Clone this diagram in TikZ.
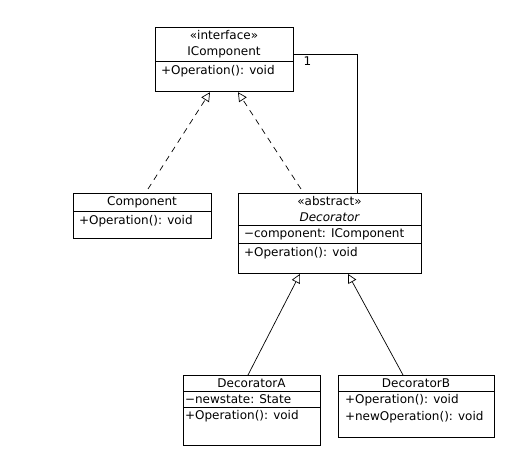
\documentclass[tikz,border=0pt]{standalone}
\usepackage{fontspec}
\setmainfont{DejaVu Sans}
\usetikzlibrary{shapes.multipart,arrows.meta}
\begin{document}
\begin{tikzpicture}[x=1pt,y=1pt]
   \tikzstyle{class} = [draw, rectangle split, rectangle split parts=2,
      rectangle split part align={center,left,left}, font=\fontsize{12}{14.5}\selectfont,
      inner ysep=3pt, inner xsep=6pt, anchor=north, line width=0.8pt]
   \tikzstyle{impl} = [draw, dash pattern=on 6pt off 5pt, -{Triangle[open,length=9pt,width=9pt]}, line width=0.7pt]
   \tikzstyle{inherit} = [draw, -{Triangle[open,length=9pt,width=9pt]}, line width=0.7pt]
   \useasboundingbox (0,0) rectangle (512,-457);

   \node[class, minimum width=138pt] (icomp) at (224,-27)
      {\shortstack{«interface»\\[4pt]IComponent}
       \nodepart{two} +Operation(): void\rule[-14pt]{0pt}{14pt}};
   \node[class, minimum width=138pt] (comp) at (142,-193)
      {Component \nodepart{two} +Operation(): void\rule[-11pt]{0pt}{11pt}};
   \node[class, rectangle split parts=3, minimum width=183pt] (dec) at (329.5,-193)
      {\shortstack{«abstract»\\[4pt]\itshape Decorator} \nodepart{two} −component: IComponent
       \nodepart{three} +Operation(): void\rule[-14pt]{0pt}{14pt}};
   \node[class, rectangle split parts=3, minimum width=137pt, inner xsep=2pt] (deca) at (251.5,-375)
      {DecoratorA \nodepart{two} −newstate: State
       \nodepart{three} +Operation(): void\rule[-22pt]{0pt}{22pt}};
   \node[class, minimum width=156pt, inner xsep=7pt] (decb) at (416,-375)
      {DecoratorB \nodepart{two} \shortstack[l]{+Operation(): void\\[2.5pt]+newOperation(): void\rule[-13pt]{0pt}{13pt}}};

   \path [impl] ([shift={(6,4)}]comp.north) -- ([xshift=-14]icomp.south);
   \path [impl] ([shift={(-28.5,4)}]dec.north) -- ([xshift=14]icomp.south);
   \path [inherit] ([xshift=-3.5]deca.north) -- ([xshift=-29.5]dec.south);
   \path [inherit] ([xshift=-13]decb.north) -- ([xshift=18.5]dec.south);

   \draw [line width=0.7pt] ([yshift=5]icomp.east) -| node[pos=0.11, below, inner sep=2pt] {\fontsize{12}{14}\selectfont 1} ([xshift=27.5]dec.north);
 \end{tikzpicture}
\end{document}
